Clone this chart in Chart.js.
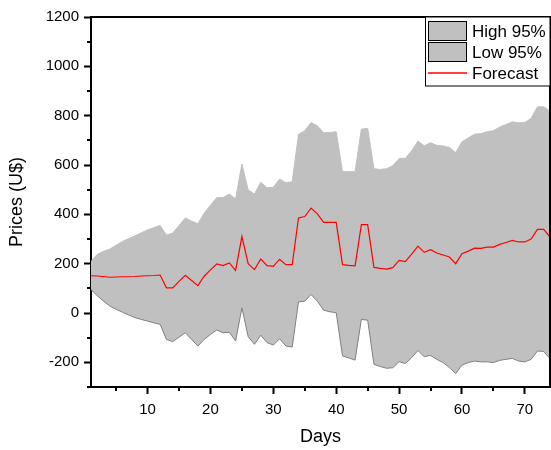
<!DOCTYPE html>
<html>
<head>
<meta charset="utf-8">
<script src="https://cdn.jsdelivr.net/npm/chart.js@4/dist/chart.umd.min.js"></script>
<style>
  body { margin: 0; background: #fff; }
  #wrap { width: 551px; height: 450px; }
</style>
</head>
<body>
<div id="wrap"><canvas id="forecastChart" width="551" height="450"></canvas></div>
<script>
const days = [
    1, 2, 3, 4, 5, 6, 7, 8, 9, 10, 11, 12, 13, 14, 15, 16, 17, 18, 19, 20,
    21, 22, 23, 24, 25, 26, 27, 28, 29, 30, 31, 32, 33, 34, 35, 36, 37, 38, 39, 40,
    41, 42, 43, 44, 45, 46, 47, 48, 49, 50, 51, 52, 53, 54, 55, 56, 57, 58, 59, 60,
    61, 62, 63, 64, 65, 66, 67, 68, 69, 70, 71, 72, 73, 74
];
const high95 = [
    209, 238, 250, 259, 275, 290, 302, 313, 325, 337, 346, 355, 316, 324, 355, 385, 373, 362, 405, 437,
    468, 468, 482, 463, 604, 499, 482, 530, 508, 510, 543, 528, 532, 724, 739, 772, 759, 731, 732, 735,
    573, 573, 573, 745, 749, 585, 582, 585, 597, 626, 627, 658, 697, 678, 690, 680, 677, 671, 650, 694,
    710, 725, 727, 735, 739, 754, 764, 775, 771, 772, 789, 836, 836, 818
];
const low95 = [
    95, 70, 48, 28, 15, 3, -8, -19, -26, -33, -40, -46, -107, -116, -98, -80, -107, -134, -107, -87,
    -69, -80, -78, -114, 21, -96, -127, -90, -120, -130, -104, -134, -138, 45, 48, 75, 48, 11, 5, 1,
    -174, -182, -191, -26, -29, -208, -217, -224, -222, -197, -205, -181, -152, -177, -172, -188, -201, -221, -246, -211,
    -201, -195, -198, -198, -201, -192, -188, -184, -195, -198, -188, -154, -156, -185
];
const forecast = [
    151, 150, 148, 145, 146, 147, 147, 148, 150, 151, 152, 154, 102, 102, 128, 153, 132, 111, 149, 175,
    199, 192, 203, 173, 310, 200, 176, 219, 192, 189, 218, 196, 196, 385, 391, 425, 402, 367, 367, 367,
    196, 193, 191, 358, 358, 185, 181, 178, 184, 213, 208, 239, 271, 246, 257, 243, 235, 227, 200, 240,
    251, 263, 262, 267, 267, 278, 286, 294, 288, 288, 300, 339, 339, 308
];

const xMajor = [10, 20, 30, 40, 50, 60, 70];
const xMinor = [5, 15, 25, 35, 45, 55, 65];
const yMajor = [-200, 0, 200, 400, 600, 800, 1000, 1200];
const yMinor = [-300, -100, 100, 300, 500, 700, 900, 1100];

const FONT = "'Liberation Sans', Arial, sans-serif";
const BAND = '#c0c0c0';
const LOW_LINE = '#808080';
const RED = '#ff0000';
Chart.defaults.font.family = FONT;
Chart.defaults.color = '#000';

const toPoints = vals => days.map((d, i) => ({ x: d, y: vals[i] }));

// minor ticks, top/right frame and the legend box inside the plot
const framePlugin = {
    id: 'frame',
    afterDraw(chart) {
        const ctx = chart.ctx;
        const a = chart.chartArea;
        const x = chart.scales.x, y = chart.scales.y;
        ctx.save();
        ctx.strokeStyle = '#000';
        ctx.lineWidth = 2;
        ctx.beginPath();
        xMinor.forEach(v => {
            const px = Math.round(x.getPixelForValue(v));
            ctx.moveTo(px, a.bottom);
            ctx.lineTo(px, a.bottom + 4);
        });
        yMinor.forEach(v => {
            const py = Math.round(y.getPixelForValue(v));
            ctx.moveTo(a.left, py);
            ctx.lineTo(a.left - 4, py);
        });
        ctx.moveTo(a.left, a.top);
        ctx.lineTo(a.right, a.top);
        ctx.lineTo(a.right, a.bottom);
        ctx.stroke();

        // legend
        const bx = 425.5, by = a.top, bw = a.right - bx, bh = 69;
        ctx.fillStyle = '#fff';
        ctx.fillRect(bx, by, bw, bh);
        ctx.strokeStyle = '#000';
        ctx.lineWidth = 1;
        ctx.strokeRect(bx, by, bw, bh);
        const rows = [by + 14, by + 35, by + 56];
        ctx.font = '17px ' + FONT;
        ctx.textBaseline = 'middle';
        ctx.textAlign = 'left';
        chart.data.datasets.forEach((d, i) => {
            const ry = rows[i];
            if (i < 2) {
                ctx.fillStyle = BAND;
                ctx.fillRect(428.5, ry - 9.5, 38, 19);
                ctx.strokeStyle = '#000';
                ctx.lineWidth = 1;
                ctx.strokeRect(428.5, ry - 9.5, 38, 19);
            } else {
                ctx.beginPath();
                ctx.strokeStyle = RED;
                ctx.lineWidth = 1.5;
                ctx.moveTo(428, ry);
                ctx.lineTo(467, ry);
                ctx.stroke();
            }
            ctx.fillStyle = '#000';
            ctx.fillText(d.label, 472, ry + 1);
        });
        ctx.restore();
    }
};

new Chart(document.getElementById('forecastChart'), {
    type: 'line',
    data: {
        datasets: [{
            label: 'High 95%',
            data: toPoints(high95),
            borderColor: BAND,
            backgroundColor: BAND,
            borderWidth: 1,
            fill: '+1',
            pointRadius: 0,
            order: 2
        }, {
            label: 'Low 95%',
            data: toPoints(low95),
            borderColor: LOW_LINE,
            backgroundColor: BAND,
            borderWidth: 1,
            fill: false,
            pointRadius: 0,
            order: 1
        }, {
            label: 'Forecast',
            data: toPoints(forecast),
            borderColor: RED,
            backgroundColor: RED,
            borderWidth: 1.2,
            fill: false,
            pointRadius: 0,
            order: 0
        }]
    },
    options: {
        responsive: false,
        animation: false,
        devicePixelRatio: 1,
        layout: { padding: { top: 17, right: 1, left: 0, bottom: 0 } },
        plugins: {
            legend: { display: false },
            tooltip: { enabled: false }
        },
        scales: {
            x: {
                type: 'linear',
                min: 1,
                max: 74,
                afterBuildTicks: s => { s.ticks = xMajor.map(v => ({ value: v })); },
                afterFit: s => { s.height = 63; },
                grid: { display: true, drawOnChartArea: false, drawTicks: true, tickLength: 7, tickWidth: 2, tickColor: '#000' },
                border: { display: true, color: '#000', width: 2 },
                ticks: { font: { size: 15 }, padding: 7, maxRotation: 0, callback: v => String(v) },
                title: { display: true, text: 'Days', font: { size: 18 }, padding: { top: 4, bottom: 2 } }
            },
            y: {
                min: -300,
                max: 1200,
                afterBuildTicks: s => { s.ticks = yMajor.map(v => ({ value: v })); },
                afterFit: s => { s.width = 91; },
                grid: { display: true, drawOnChartArea: false, drawTicks: true, tickLength: 7, tickWidth: 2, tickColor: '#000' },
                border: { display: true, color: '#000', width: 2 },
                ticks: { font: { size: 15 }, padding: 5, callback: v => String(v) },
                title: { display: true, text: 'Prices (U$)', font: { size: 18 }, padding: { top: 6, bottom: 4 } }
            }
        }
    },
    plugins: [framePlugin]
});
</script>
</body>
</html>
